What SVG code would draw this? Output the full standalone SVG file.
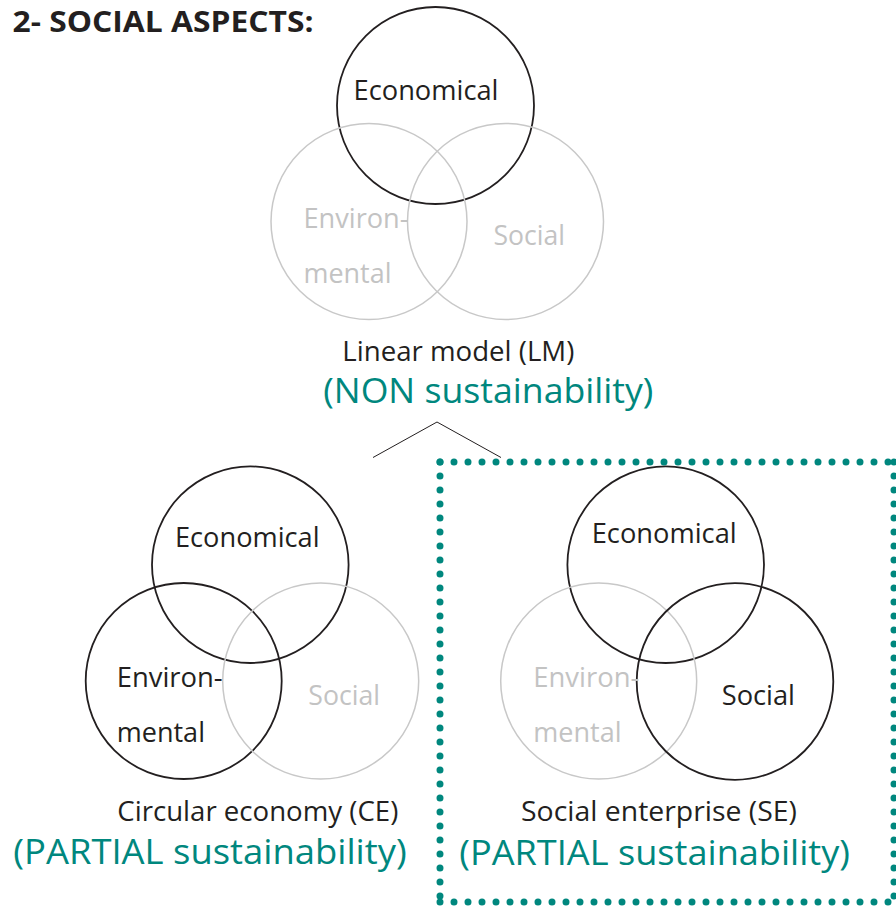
<svg xmlns="http://www.w3.org/2000/svg" width="896" height="907" viewBox="0 0 896 907">
<style>
text { font-family: "Open Sans", "Liberation Sans", sans-serif; }
.t { font-size: 27px; fill: #231F20; }
.g { font-size: 27px; fill: #C3C3C3; }
.teal { font-size: 35px; fill: #00877E; }
.title { font-size: 29px; font-weight: bold; fill: #231F20; }
.cb { fill: none; stroke: #231F20; stroke-width: 1.8; }
.cg { fill: none; stroke: #C8C8C8; stroke-width: 1.5; }
.dots { stroke: #00877E; stroke-width: 7; stroke-linecap: round; stroke-dasharray: 0 14; fill: none; }
</style>
<rect width="896" height="907" fill="#FFFFFF"/>
<text class="title" x="12.5" y="31.5" textLength="301" lengthAdjust="spacingAndGlyphs">2- SOCIAL ASPECTS:</text>

<g id="lm">
  <circle class="cb" cx="435.5" cy="105.5" r="98.5"/>
  <circle class="cg" cx="369" cy="221.5" r="98"/>
  <circle class="cg" cx="505.5" cy="221.5" r="98"/>
  <text class="t" x="353.5" y="100" textLength="145" lengthAdjust="spacingAndGlyphs">Economical</text>
  <text class="g" x="303.5" y="228" textLength="105" lengthAdjust="spacingAndGlyphs">Environ-</text>
  <text class="g" x="303.5" y="283" textLength="88" lengthAdjust="spacingAndGlyphs">mental</text>
  <text class="g" x="493.5" y="244.5" textLength="71.5" lengthAdjust="spacingAndGlyphs">Social</text>
  <text class="t" x="342.3" y="361" textLength="232" lengthAdjust="spacingAndGlyphs">Linear model (LM)</text>
  <text class="teal" x="323.3" y="403" textLength="330" lengthAdjust="spacingAndGlyphs">(NON sustainability)</text>
</g>

<g id="ce">
  <circle class="cb" cx="250.3" cy="564.7" r="98.3"/>
  <circle class="cb" cx="183.7" cy="681" r="98"/>
  <circle class="cg" cx="320.7" cy="681" r="98"/>
  <text class="t" x="175" y="546.7" textLength="144.5" lengthAdjust="spacingAndGlyphs">Economical</text>
  <text class="t" x="116.7" y="687.3" textLength="106" lengthAdjust="spacingAndGlyphs">Environ-</text>
  <text class="t" x="116.7" y="741.7" textLength="88.3" lengthAdjust="spacingAndGlyphs">mental</text>
  <text class="g" x="308.3" y="705" textLength="71.7" lengthAdjust="spacingAndGlyphs">Social</text>
  <text class="t" x="117.3" y="820.7" textLength="281" lengthAdjust="spacingAndGlyphs">Circular economy (CE)</text>
  <text class="teal" x="13.3" y="863.5" textLength="393.4" lengthAdjust="spacingAndGlyphs">(PARTIAL sustainability)</text>
</g>

<g id="se">
  <circle class="cb" cx="665.7" cy="564.7" r="98.3"/>
  <circle class="cg" cx="598.7" cy="681" r="98"/>
  <circle class="cb" cx="735" cy="681.5" r="98.3"/>
  <text class="t" x="591.7" y="543.3" textLength="145" lengthAdjust="spacingAndGlyphs">Economical</text>
  <text class="g" x="533.3" y="686.7" textLength="106" lengthAdjust="spacingAndGlyphs">Environ-</text>
  <text class="g" x="533.3" y="741.7" textLength="88.3" lengthAdjust="spacingAndGlyphs">mental</text>
  <text class="t" x="721.7" y="705" textLength="73.3" lengthAdjust="spacingAndGlyphs">Social</text>
  <text class="t" x="521" y="820.7" textLength="276" lengthAdjust="spacingAndGlyphs">Social enterprise (SE)</text>
  <text class="teal" x="459.3" y="865" textLength="390.7" lengthAdjust="spacingAndGlyphs">(PARTIAL sustainability)</text>
</g>

<g id="se-frame">
  <line class="dots" x1="440" y1="462" x2="896" y2="462"/>
  <line class="dots" x1="440" y1="462" x2="440" y2="902"/>
  <line class="dots" x1="440" y1="902" x2="896" y2="902"/>
  <line class="dots" x1="894" y1="462" x2="894" y2="902"/>
</g>

<g id="connectors">
  <polyline points="373,457.5 437,422 501,457.5" fill="none" stroke="#231F20" stroke-width="1"/>
</g>
</svg>
